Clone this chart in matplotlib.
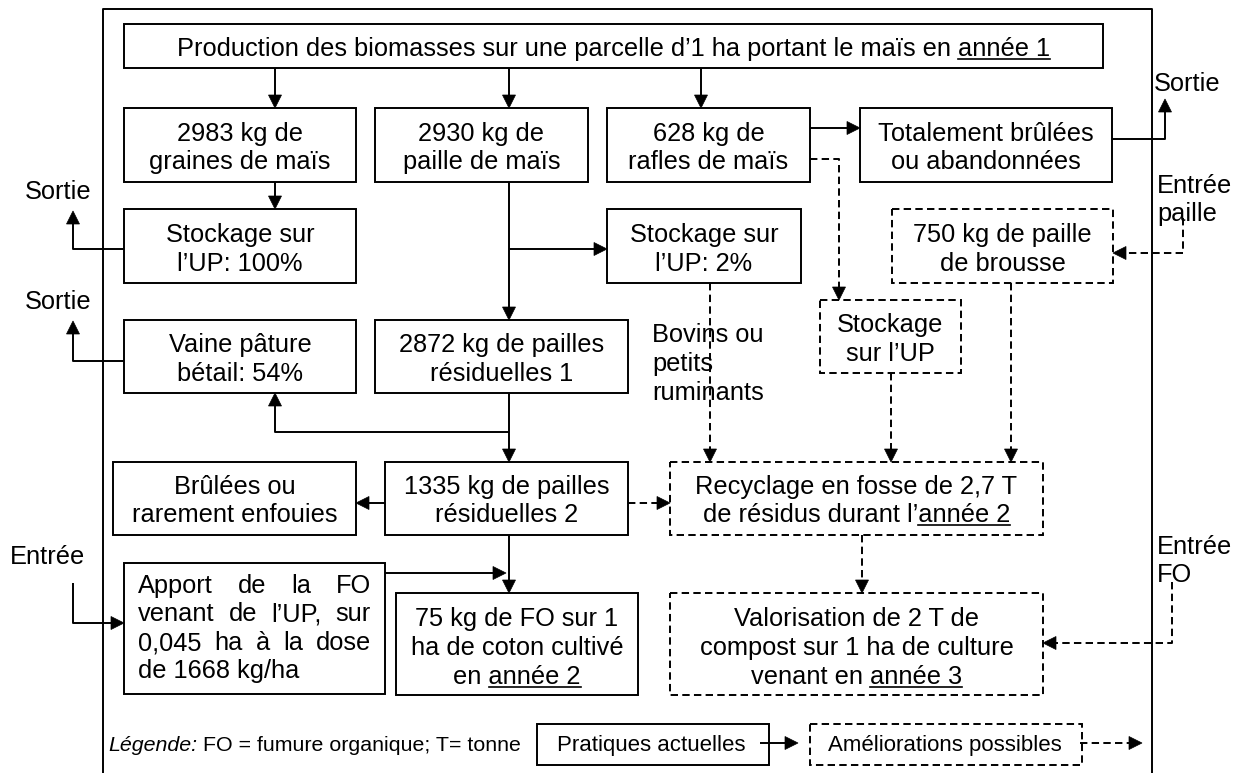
import matplotlib
matplotlib.use("Agg")
import matplotlib.pyplot as plt
from matplotlib.patches import Rectangle, Polygon

plt.rcParams['font.family'] = ['Liberation Sans', 'DejaVu Sans']

grains_kg = 2983
paille_kg = 2930
rafles_kg = 628
residus1_kg = 2872
residus2_kg = 1335
brousse_kg = 750
fo_coton_kg = 75
stock_grains_pct = 100
stock_paille_pct = 2
paturage_pct = 54
fosse_t = "2,7"
compost_t = 2
surface_ha = "0,045"
dose_kg_ha = 1668

# textes des cases : une ligne = (texte, partie soulignee)
txt_top = [("Production des biomasses sur une parcelle d’1 ha portant le maïs en ", "année 1")]
txt_grains = [(f"{grains_kg} kg de", ""), ("graines de maïs", "")]
txt_paille = [(f"{paille_kg} kg de", ""), ("paille de maïs", "")]
txt_rafles = [(f"{rafles_kg} kg de", ""), ("rafles de maïs", "")]
txt_brulees = [("Totalement brûlées", ""), ("ou abandonnées", "")]
txt_stock1 = [("Stockage sur", ""), (f"l’UP: {stock_grains_pct}%", "")]
txt_stock2 = [("Stockage sur", ""), (f"l’UP: {stock_paille_pct}%", "")]
txt_brousse = [(f"{brousse_kg} kg de paille", ""), ("de brousse", "")]
txt_stock3 = [("Stockage", ""), ("sur l’UP", "")]
txt_vaine = [("Vaine pâture", ""), (f"bétail: {paturage_pct}%", "")]
txt_res1 = [(f"{residus1_kg} kg de pailles", ""), ("résiduelles 1", "")]
txt_enfouies = [("Brûlées ou", ""), ("rarement enfouies", "")]
txt_res2 = [(f"{residus2_kg} kg de pailles", ""), ("résiduelles 2", "")]
txt_fosse = [(f"Recyclage en fosse de {fosse_t} T", ""), ("de résidus durant l’", "année 2")]
txt_coton = [(f"{fo_coton_kg} kg de FO sur 1", ""), ("ha de coton cultivé", ""), ("en ", "année 2")]
txt_compost = [(f"Valorisation de {compost_t} T de", ""), ("compost sur 1 ha de culture", ""),
               ("venant en ", "année 3")]
txt_apport = ["Apport de la FO", "venant de l’UP, sur", f"{surface_ha} ha à la dose",
              f"de {dose_kg_ha} kg/ha"]
txt_bovins = ["Bovins ou", "petits", "ruminants"]

FS = 18.3
LW = 1.4
DASH = (0, (3.8, 2.2))

fig = plt.figure(figsize=(12.41, 7.73), dpi=100)
ax = fig.add_axes([0, 0, 1, 1])
ax.set_xlim(0, 1241)
ax.set_ylim(773, 0)
ax.axis('off')
renderer = fig.canvas.get_renderer()


def ligne(x, cy, s, under="", size=FS, ha="center", style="normal"):
    base = cy + 0.36 * size * 100 / 72
    t = ax.text(x, base, s + under, ha=ha, va="baseline", fontsize=size, fontstyle=style)
    if under:
        bb = t.get_window_extent(renderer)
        tmp = ax.text(0, 0, under, fontsize=size)
        wu = tmp.get_window_extent(renderer).width
        tmp.remove()
        ax.plot([bb.x1 - wu, bb.x1], [base + 3, base + 3], color="k", lw=1.2)
    return t


def case(x0, y0, x1, y1, lignes, ys, dashed=False):
    ax.add_patch(Rectangle((x0, y0), x1 - x0, y1 - y0, fill=False, ec="k", lw=LW,
                           ls=DASH if dashed else "-"))
    for (s, u), cy in zip(lignes, ys):
        ligne((x0 + x1) / 2, cy, s, u)


def fleche(pts, dashed=False, head=True):
    xs = [p[0] for p in pts]
    ys = [p[1] for p in pts]
    if head:
        (xa, ya), (xb, yb) = pts[-2], pts[-1]
        d = ((xb - xa) ** 2 + (yb - ya) ** 2) ** 0.5
        ux, uy = (xb - xa) / d, (yb - ya) / d
        L, W = 13, 6.5
        bx, by = xb - ux * L, yb - uy * L
        xs[-1], ys[-1] = bx + ux, by + uy
        ax.add_patch(Polygon([(xb, yb), (bx - uy * W, by + ux * W), (bx + uy * W, by - ux * W)],
                             closed=True, fc="k", ec="k", lw=0.5))
    ax.plot(xs, ys, color="k", lw=LW, ls=DASH if dashed else "-",
            solid_capstyle="butt", dash_capstyle="butt")


# cadre
ax.plot([103, 103, 1152, 1152], [773, 9, 9, 773], color="k", lw=LW)

# cases
case(124, 24, 1103, 68, txt_top, [47])
case(124, 108, 356, 182, txt_grains, [132, 160])
case(375, 108, 588, 182, txt_paille, [132, 160])
case(607, 108, 810, 182, txt_rafles, [132, 160])
case(860, 108, 1112, 182, txt_brulees, [132, 160])
case(124, 209, 356, 283, txt_stock1, [233, 262])
case(607, 209, 801, 283, txt_stock2, [233, 262])
case(892, 209, 1113, 283, txt_brousse, [233, 262], dashed=True)
case(820, 300, 961, 373, txt_stock3, [323, 352], dashed=True)
case(124, 320, 356, 393, txt_vaine, [343, 372])
case(375, 320, 628, 393, txt_res1, [343, 372])
case(113, 462, 356, 535, txt_enfouies, [485, 513])
case(385, 462, 628, 535, txt_res2, [485, 513])
case(670, 462, 1043, 535, txt_fosse, [485, 513], dashed=True)
case(396, 593, 638, 695, txt_coton, [617, 646, 675])
case(670, 593, 1043, 695, txt_compost, [617, 646, 675], dashed=True)

# case "Apport" en texte justifie
ax.add_patch(Rectangle((124, 563), 385 - 124, 694 - 563, fill=False, ec="k", lw=LW))
jl, jr = 138, 371
for i, (s, cy) in enumerate(zip(txt_apport, [584, 612, 641, 669])):
    base = cy + 0.36 * FS * 100 / 72
    if i == len(txt_apport) - 1:
        ax.text(jl, base, s, ha="left", va="baseline", fontsize=FS)
        continue
    mots = s.split(" ")
    objs = [ax.text(0, base, m, ha="left", va="baseline", fontsize=FS) for m in mots]
    ws = [o.get_window_extent(renderer).width for o in objs]
    gap = (jr - jl - sum(ws)) / (len(mots) - 1)
    x = jl
    for o, w in zip(objs, ws):
        o.set_x(x)
        x += w + gap

# textes libres
for s, cy in zip(txt_bovins, [333, 362, 391]):
    ligne(652, cy, s, ha="left")
ligne(58, 190, "Sortie")
ligne(58, 300, "Sortie")
ligne(1154, 82, "Sortie", ha="left")
ligne(1157, 184, "Entrée", ha="left")
ligne(1157, 212, "paille", ha="left")
ligne(47, 555, "Entrée")
ligne(1157, 545, "Entrée", ha="left")
ligne(1157, 573, "FO", ha="left")

# fleches pratiques actuelles
fleche([(275, 68), (275, 108)])
fleche([(509, 68), (509, 108)])
fleche([(701, 68), (701, 108)])
fleche([(275, 182), (275, 209)])
fleche([(124, 249), (73, 249), (73, 211)])
fleche([(509, 182), (509, 320)])
fleche([(509, 249), (607, 249)])
fleche([(810, 128), (860, 128)])
fleche([(1112, 139), (1165, 139), (1165, 99)])
fleche([(124, 361), (73, 361), (73, 321)])
fleche([(509, 393), (509, 462)])
fleche([(509, 432), (275, 432), (275, 393)])
fleche([(385, 503), (356, 503)])
fleche([(509, 535), (509, 593)])
fleche([(385, 573), (506, 573)])
fleche([(73, 583), (73, 623), (124, 623)])

# fleches ameliorations possibles
fleche([(810, 159), (839, 159), (839, 300)], dashed=True)
fleche([(710, 283), (710, 462)], dashed=True)
fleche([(891, 373), (891, 462)], dashed=True)
fleche([(1011, 283), (1011, 462)], dashed=True)
fleche([(1183, 218), (1183, 253), (1113, 253)], dashed=True)
fleche([(628, 503), (670, 503)], dashed=True)
fleche([(862, 535), (862, 593)], dashed=True)
fleche([(1172, 582), (1172, 643), (1043, 643)], dashed=True)

# legende
t = ligne(108, 743, "Légende:", size=15.4, ha="left", style="italic")
x_leg = t.get_window_extent(renderer).x1
ligne(x_leg, 743, " FO = fumure organique; T= tonne", size=15.4, ha="left")
ax.add_patch(Rectangle((537, 724), 769 - 537, 765 - 724, fill=False, ec="k", lw=LW))
ligne(651, 743, "Pratiques actuelles", size=16)
fleche([(760, 743), (798, 743)])
ax.add_patch(Rectangle((810, 724), 1082 - 810, 765 - 724, fill=False, ec="k", lw=LW, ls=DASH))
ligne(945, 743, "Améliorations possibles", size=16)
fleche([(1080, 743), (1142, 743)], dashed=True)

fig.savefig("out.png", dpi=100)
